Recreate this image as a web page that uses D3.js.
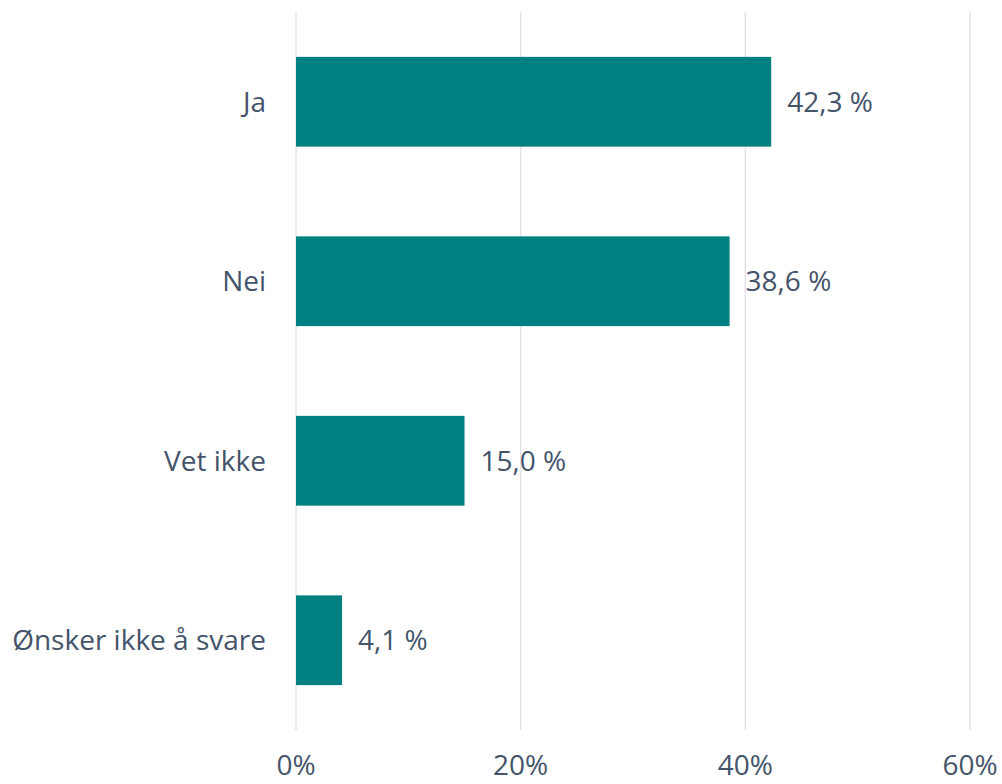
<!DOCTYPE html>
<html>
<head>
<meta charset="utf-8">
<script src="https://cdn.jsdelivr.net/npm/d3@7"></script>
<style>
  body { margin: 0; background: #fff; }
  text { font-family: "Open Sans", sans-serif; fill: #44546A; }
</style>
</head>
<body>
<div id="chart"></div>
<script>
// data
var categories = ["Ja", "Nei", "Vet ikke", "Ønsker ikke å svare"];
var values     = [42.3, 38.6, 15.0, 4.1];
var ticks      = [0, 20, 40, 60];

const chart_width = 1002, chart_height = 784;
const plot_left = 296, plot_right = 970, plot_top = 12, plot_bottom = 730;

var svg = d3.select("#chart")
	.append("svg")
	.attr("width", chart_width)
	.attr("height", chart_height);

// scales
const x_scale = d3.scaleLinear()
	.domain([0, 60])
	.range([plot_left, plot_right]);

const y_scale = d3.scaleBand()
	.domain(categories)
	.range([plot_top, plot_bottom])
	.paddingInner(0.5)
	.paddingOuter(0.25);

// gridlines
svg.selectAll("line.grid")
	.data(ticks)
	.enter()
	.append("line")
	.attr("class", "grid")
	.attr("x1", d => x_scale(d))
	.attr("x2", d => x_scale(d))
	.attr("y1", plot_top)
	.attr("y2", plot_bottom)
	.attr("stroke", "#E1E4EA")
	.attr("stroke-width", 1.5);

// bars
svg.selectAll("rect")
	.data(values)
	.enter()
	.append("rect")
	.attr("x", x_scale(0))
	.attr("y", (d, i) => y_scale(categories[i]))
	.attr("width", d => x_scale(d) - x_scale(0))
	.attr("height", y_scale.bandwidth())
	.attr("fill", "#008080");

// value labels
svg.selectAll("text.value")
	.data(values)
	.enter()
	.append("text")
	.attr("class", "value")
	.attr("x", d => x_scale(d) + 16)
	.attr("y", (d, i) => y_scale(categories[i]) + y_scale.bandwidth() / 2)
	.attr("dy", "0.36em")
	.style("font-size", "28px")
	.text(d => d.toFixed(1).replace(".", ",") + " %");

// category labels
svg.selectAll("text.cat")
	.data(categories)
	.enter()
	.append("text")
	.attr("class", "cat")
	.attr("x", plot_left - 30)
	.attr("y", d => y_scale(d) + y_scale.bandwidth() / 2)
	.attr("dy", "0.36em")
	.attr("text-anchor", "end")
	.style("font-size", "28px")
	.text(d => d);

// x tick labels
svg.selectAll("text.tick")
	.data(ticks)
	.enter()
	.append("text")
	.attr("class", "tick")
	.attr("x", d => x_scale(d))
	.attr("y", 775)
	.attr("text-anchor", "middle")
	.style("font-size", "28px")
	.text(d => d + "%");
</script>
</body>
</html>
